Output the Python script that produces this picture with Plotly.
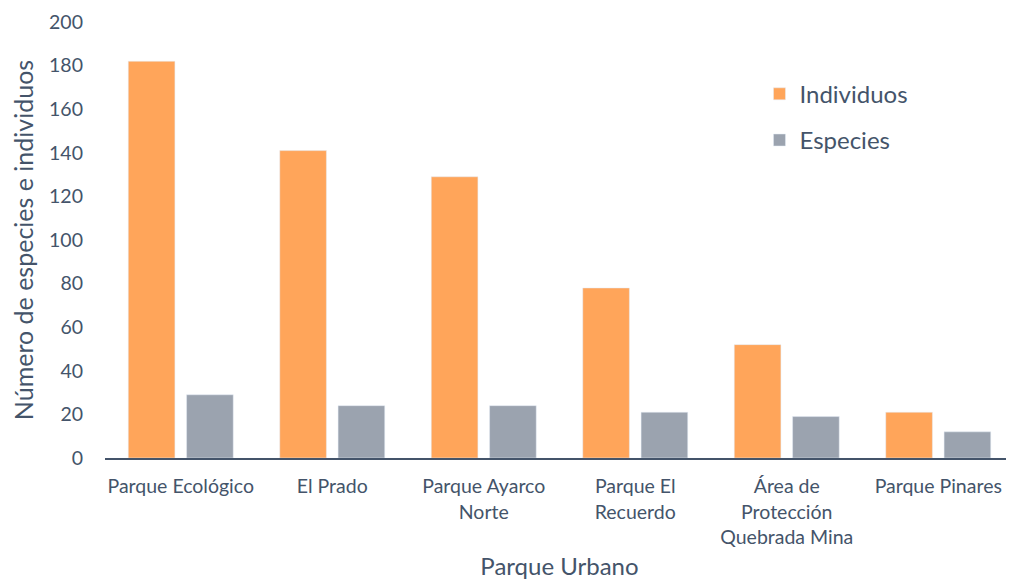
import plotly.graph_objects as go

categories = ["Parque Ecológico", "El Prado", "Parque Ayarco<br>Norte", "Parque El<br>Recuerdo",
              "Área de<br>Protección<br>Quebrada Mina", "Parque Pinares"]
individuos = [182, 141, 129, 78, 52, 21]
especies = [29, 24, 24, 21, 19, 12]
y_ticks = [0, 20, 40, 60, 80, 100, 120, 140, 160, 180, 200]

text_color = "#44546A"
font_family = "Lato, 'Open Sans', sans-serif"

fig = go.Figure()
fig.add_trace(go.Bar(x=categories, y=individuos, name="Individuos", marker_color="#FFA55A",
                     legendgroup="a"))
fig.add_trace(go.Bar(x=categories, y=especies, name="Especies", marker_color="#9BA3AF",
                     legendgroup="b"))

# page body has an 8px default margin; size the figure so it fits the 1014x580 window
fig.update_layout(
    width=1006, height=572,
    margin=dict(l=97, r=0, t=14, b=122),
    plot_bgcolor="white", paper_bgcolor="white",
    barmode="group", bargap=0.23, bargroupgap=0.2,
    font=dict(family=font_family, color=text_color, size=19.5),
    legend=dict(x=0.72, y=0.886, xanchor="left", yanchor="top",
                font=dict(size=24, color=text_color), tracegroupgap=12,
                traceorder="grouped", bgcolor="rgba(0,0,0,0)"),
    xaxis=dict(title=dict(text="Parque Urbano", font=dict(size=24), standoff=16),
               automargin=False,
               showline=True, linecolor="#44546A", linewidth=1.5, ticks="",
               ticklabelstandoff=10, tickfont=dict(size=19.5)),
    yaxis=dict(title=dict(text="Número de especies e individuos", font=dict(size=25), standoff=30),
               automargin=False,
               range=[0, 200], tickvals=y_ticks, showgrid=False, zeroline=False,
               showline=False, ticklabelstandoff=21, tickfont=dict(size=19.5)),
)

fig.write_html("out.html")
